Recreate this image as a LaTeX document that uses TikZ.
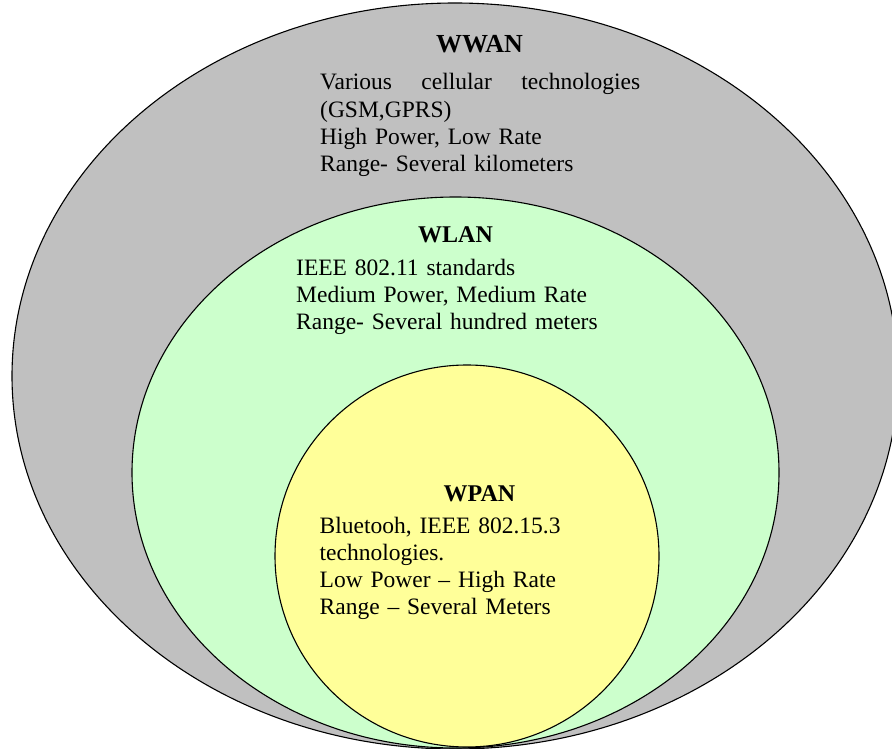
\documentclass[tikz,border=0pt]{standalone}
\usepackage{fontspec}
\setmainfont{Liberation Serif}
\usetikzlibrary{positioning}
\definecolor{WwanGray}{RGB}{192,192,192}
\definecolor{WlanGreen}{RGB}{204,255,204}
\definecolor{WpanYellow}{RGB}{255,255,153}

\begin{document}
\begin{tikzpicture}[x=1pt,y=-1pt,
  zone/.style={draw=black,line width=1.1pt},
  zonetitle/.style={font=\fontsize{24}{27.3}\selectfont\bfseries,inner sep=0pt,anchor=base},
  zonetext/.style={font=\fontsize{23.5}{27.3}\selectfont,inner sep=0pt,anchor=base west,
    text width=320pt,align=left}]
\useasboundingbox (0,0) rectangle (892,749);
\clip (0,0) rectangle (892,749);
% nested coverage areas
\filldraw[zone,fill=WwanGray] (455,376) ellipse [x radius=443,y radius=373];
\filldraw[zone,fill=WlanGreen] (455.5,472.5) ellipse [x radius=323.5,y radius=275.5];
\filldraw[zone,fill=WpanYellow] (467,556) ellipse [x radius=192,y radius=191];
% WWAN
\node[zonetitle,font=\fontsize{26}{28}\selectfont\bfseries] (wwan) at (479.5,53) {WWAN};
\node[zonetext] (wwantext) at (320,90) {Various \hfill cellular \hfill technologies\\(GSM,GPRS)\\High Power, Low Rate\\Range- Several kilometers};
% WLAN
\node[zonetitle] (wlan) at (455.5,242) {WLAN};
\node[zonetext] (wlantext) at (296,275) {IEEE 802.11 standards\\Medium Power, Medium Rate\\Range- Several hundred meters};
% WPAN
\node[zonetitle] (wpan) at (479.5,501.7) {WPAN};
\node[zonetext] (wpantext) at (319.5,533) {Bluetooh, IEEE 802.15.3\\technologies.\\Low Power -- High Rate\\Range -- Several Meters};
\end{tikzpicture}
\end{document}
